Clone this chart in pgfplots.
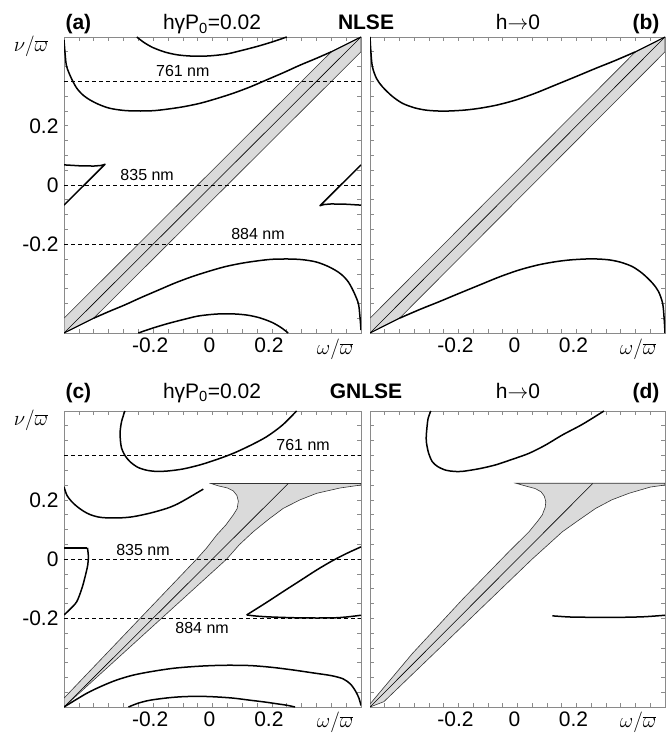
\documentclass[border=0pt]{standalone}
\usepackage{fontspec}
\setmainfont{Liberation Sans}
\usepackage{pgfplots}
\pgfplotsset{compat=1.18}
\definecolor{bandgray}{HTML}{DADADA}
\definecolor{framegray}{HTML}{8A8A8A}
\pgfplotsset{
  panel/.style={
    scale only axis, width=297pt, height=296pt,
    xmin=-0.5, xmax=0.5, ymin=-0.5, ymax=0.5,
    xtick={-0.2,0,0.2}, xticklabels={-0.2,0,0.2},
    ytick={-0.2,0,0.2}, yticklabels={-0.2,0,0.2},
    minor xtick={-0.45,-0.4,-0.35,-0.3,-0.25,-0.15,-0.1,-0.05,0.05,0.1,0.15,0.25,0.3,0.35,0.4,0.45},
    minor ytick={-0.45,-0.4,-0.35,-0.3,-0.25,-0.15,-0.1,-0.05,0.05,0.1,0.15,0.25,0.3,0.35,0.4,0.45},
    tick align=inside,
    axis line style={draw=framegray, line width=0.9pt},
    every tick/.style={draw=framegray, line width=0.6pt},
    major tick length=4pt, minor tick length=4pt,
    ticklabel style={font=\fontsize{21}{25}\selectfont},
    xticklabel style={xshift=-3pt, yshift=-1pt},
    yticklabel style={xshift=-2pt},
  },
  thick curve/.style={black, line width=1.5pt, line join=round},
  thin curve/.style={black, line width=0.6pt},
  band/.style={fill=bandgray, draw=black!80, line width=0.6pt},
  dash line/.style={black, line width=0.7pt, dash pattern=on 4pt off 3pt},
}
\newcommand{\nmlabel}[3]{\node[font=\fontsize{16}{19}\selectfont] at (axis cs:#1,#2) {#3};}
\begin{document}
\begin{tikzpicture}[x=1pt,y=1pt]
% ---------------- (a) ----------------
\begin{axis}[panel, at={(64pt,-333pt)}, anchor=south west]
\addplot[band] coordinates {(-0.5,-0.5) (-0.5,-0.45) (0.4,0.45) (0.5,0.5) (0.5,0.45) (-0.4,-0.45)} -- cycle;
\addplot[thin curve] coordinates {(-0.5,-0.5) (0.5,0.5)};
\addplot[dash line] coordinates {(-0.5,0.35) (0.5,0.35)};
\addplot[dash line] coordinates {(-0.5,0) (0.5,0)};
\addplot[dash line] coordinates {(-0.5,-0.2) (0.5,-0.2)};
\addplot[thick curve, smooth] coordinates {(-0.5,0.49) (-0.496,0.44) (-0.491,0.40) (-0.475,0.36) (-0.457,0.327) (-0.435,0.303) (-0.412,0.287) (-0.38,0.271) (-0.345,0.259) (-0.30,0.252) (-0.255,0.25) (-0.20,0.251) (-0.154,0.256) (-0.10,0.264) (-0.042,0.276) (0.014,0.292) (0.07,0.31) (0.126,0.331) (0.182,0.355) (0.24,0.38) (0.295,0.405) (0.35,0.428) (0.40,0.45)};
\addplot[thick curve, smooth] coordinates {(0.5,-0.49) (0.496,-0.44) (0.491,-0.40) (0.475,-0.36) (0.457,-0.327) (0.435,-0.303) (0.412,-0.287) (0.38,-0.271) (0.345,-0.259) (0.30,-0.252) (0.255,-0.25) (0.20,-0.251) (0.154,-0.256) (0.10,-0.264) (0.042,-0.276) (-0.014,-0.292) (-0.07,-0.31) (-0.126,-0.331) (-0.182,-0.355) (-0.24,-0.38) (-0.295,-0.405) (-0.35,-0.428) (-0.40,-0.45)};
\addplot[black, line width=1.1pt] coordinates {(0.4,0.45) (0.5,0.5)};
\addplot[black, line width=1.1pt] coordinates {(-0.4,-0.45) (-0.5,-0.5)};
\addplot[thick curve, smooth] coordinates {(-0.255,0.5) (-0.23,0.481) (-0.20,0.464) (-0.16,0.449) (-0.12,0.440) (-0.08,0.436) (-0.04,0.435) (0.0,0.437) (0.05,0.443) (0.10,0.455) (0.15,0.468) (0.20,0.483) (0.25,0.5)};
\addplot[thick curve, smooth] coordinates {(0.255,-0.5) (0.23,-0.481) (0.20,-0.464) (0.16,-0.449) (0.12,-0.440) (0.08,-0.436) (0.04,-0.435) (0.0,-0.437) (-0.05,-0.443) (-0.10,-0.455) (-0.15,-0.468) (-0.20,-0.483) (-0.25,-0.5)};
\addplot[thick curve] coordinates {(-0.5,0.068) (-0.45,0.065) (-0.40,0.064) (-0.375,0.066) (-0.362,0.07) (-0.5,-0.068)};
\addplot[thick curve] coordinates {(0.5,-0.068) (0.45,-0.065) (0.40,-0.064) (0.375,-0.066) (0.362,-0.07) (0.5,0.068)};
\nmlabel{-0.1}{0.385}{761 nm}
\nmlabel{-0.22}{0.035}{835 nm}
\nmlabel{0.153}{-0.167}{884 nm}
\end{axis}
% ---------------- (b) ----------------
\begin{axis}[panel, width=295pt, at={(370pt,-333pt)}, anchor=south west, yticklabels={}]
\addplot[band] coordinates {(-0.5,-0.5) (-0.5,-0.45) (0.4,0.45) (0.5,0.5) (0.5,0.45) (-0.4,-0.45)} -- cycle;
\addplot[thin curve] coordinates {(-0.5,-0.5) (0.5,0.5)};
\addplot[thick curve, smooth] coordinates {(-0.5,0.5) (-0.497,0.45) (-0.492,0.40) (-0.478,0.36) (-0.458,0.332) (-0.425,0.300) (-0.39,0.276) (-0.35,0.261) (-0.311,0.253) (-0.27,0.25) (-0.232,0.25) (-0.18,0.253) (-0.13,0.259) (-0.07,0.27) (-0.006,0.287) (0.06,0.31) (0.129,0.338) (0.20,0.367) (0.265,0.394) (0.33,0.42) (0.40,0.45)};
\addplot[thick curve, smooth] coordinates {(0.5,-0.5) (0.497,-0.45) (0.492,-0.40) (0.478,-0.36) (0.458,-0.332) (0.425,-0.300) (0.39,-0.276) (0.35,-0.261) (0.311,-0.253) (0.27,-0.25) (0.232,-0.25) (0.18,-0.253) (0.13,-0.259) (0.07,-0.27) (0.006,-0.287) (-0.06,-0.31) (-0.129,-0.338) (-0.20,-0.367) (-0.265,-0.394) (-0.33,-0.42) (-0.40,-0.45)};
\addplot[black, line width=1.1pt] coordinates {(0.4,0.45) (0.5,0.5)};
\addplot[black, line width=1.1pt] coordinates {(-0.4,-0.45) (-0.5,-0.5)};
\end{axis}
% ---------------- (c) ----------------
\begin{axis}[panel, at={(64pt,-707pt)}, anchor=south west]
\addplot[band] coordinates {(-0.5,-0.5) (-0.5,-0.47) (-0.053,0.0) (-0.02,0.037) (0.014,0.081) (0.045,0.115) (0.07,0.149) (0.083,0.17) (0.087,0.195) (0.082,0.215) (0.07,0.23) (0.05,0.24) (0.02,0.247) (-0.005,0.255) (0.5,0.255) (0.5,0.25) (0.43,0.24) (0.351,0.222) (0.295,0.2) (0.238,0.171) (0.19,0.135) (0.137,0.092) (0.09,0.048) (0.048,0.0)} -- cycle;
\addplot[thin curve] coordinates {(-0.5,-0.5) (0.255,0.255)};
\addplot[dash line] coordinates {(-0.5,0.35) (0.5,0.35)};
\addplot[dash line] coordinates {(-0.5,0) (0.5,0)};
\addplot[dash line] coordinates {(-0.5,-0.2) (0.5,-0.2)};
\addplot[thick curve, smooth] coordinates {(-0.295,0.5) (-0.306,0.465) (-0.311,0.43) (-0.310,0.40) (-0.306,0.374) (-0.295,0.35) (-0.278,0.329) (-0.252,0.31) (-0.222,0.30) (-0.19,0.296) (-0.154,0.297) (-0.10,0.304) (-0.042,0.318) (0.014,0.336) (0.07,0.357) (0.126,0.383) (0.182,0.413) (0.235,0.452) (0.283,0.5)};
\addplot[thick curve, smooth] coordinates {(-0.5,0.244) (-0.49,0.215) (-0.475,0.195) (-0.457,0.178) (-0.435,0.162) (-0.412,0.150) (-0.385,0.142) (-0.356,0.139) (-0.31,0.139) (-0.267,0.143) (-0.21,0.155) (-0.154,0.171) (-0.12,0.185) (-0.087,0.203) (-0.06,0.219) (-0.031,0.236)};
\addplot[thick curve, smooth] coordinates {(-0.5,-0.5) (-0.424,-0.454) (-0.37,-0.428) (-0.323,-0.409) (-0.27,-0.393) (-0.21,-0.381) (-0.13,-0.369) (-0.042,-0.362) (0.04,-0.359) (0.126,-0.36) (0.2,-0.366) (0.272,-0.375) (0.34,-0.385) (0.40,-0.394) (0.44,-0.405) (0.465,-0.423) (0.482,-0.447) (0.493,-0.47) (0.5,-0.495)};
\addplot[thick curve, smooth] coordinates {(-0.283,-0.5) (-0.25,-0.487) (-0.21,-0.477) (-0.15,-0.469) (-0.098,-0.465) (-0.04,-0.464) (0.014,-0.466) (0.07,-0.47) (0.126,-0.477) (0.175,-0.483) (0.216,-0.489) (0.25,-0.494) (0.278,-0.5)};
\addplot[thick curve] coordinates {(-0.5,0.038) (-0.421,0.038)};
\addplot[thick curve, smooth] coordinates {(-0.421,0.038) (-0.418,0.01) (-0.42,-0.02) (-0.429,-0.06) (-0.44,-0.10) (-0.457,-0.144) (-0.48,-0.17) (-0.5,-0.189)};
\addplot[thick curve, smooth] coordinates {(0.5,0.041) (0.45,0.018) (0.40,-0.008) (0.351,-0.037) (0.30,-0.07) (0.238,-0.11) (0.18,-0.148) (0.115,-0.189)};
\addplot[thick curve, smooth] coordinates {(0.115,-0.189) (0.15,-0.193) (0.2,-0.196) (0.3,-0.199) (0.4,-0.199) (0.45,-0.196) (0.5,-0.19)};
\nmlabel{0.305}{0.385}{761 nm}
\nmlabel{-0.234}{0.03}{835 nm}
\nmlabel{-0.035}{-0.233}{884 nm}
\end{axis}
% ---------------- (d) ----------------
\begin{axis}[panel, width=295pt, at={(370pt,-707pt)}, anchor=south west, yticklabels={}]
\addplot[band] coordinates {(-0.5,-0.5) (-0.5,-0.49) (-0.357,-0.32) (-0.187,-0.137) (-0.029,0.025) (0.039,0.092) (0.07,0.13) (0.084,0.149) (0.094,0.175) (0.096,0.194) (0.091,0.212) (0.08,0.227) (0.06,0.238) (0.03,0.246) (-0.006,0.256) (0.5,0.256) (0.5,0.25) (0.45,0.243) (0.378,0.222) (0.32,0.2) (0.265,0.171) (0.21,0.133) (0.152,0.092) (0.10,0.045) (0.05,0.0) (-0.453,-0.482)} -- cycle;
\addplot[thin curve] coordinates {(-0.5,-0.5) (0.255,0.255)};
\addplot[thick curve, smooth] coordinates {(-0.294,0.5) (-0.303,0.475) (-0.306,0.453) (-0.309,0.42) (-0.309,0.396) (-0.302,0.36) (-0.289,0.329) (-0.27,0.312) (-0.243,0.30) (-0.215,0.296) (-0.187,0.296) (-0.13,0.305) (-0.074,0.318) (-0.02,0.336) (0.039,0.357) (0.095,0.385) (0.152,0.419) (0.22,0.455) (0.293,0.5)};
\addplot[thick curve, smooth] coordinates {(0.118,-0.192) (0.18,-0.196) (0.265,-0.197) (0.35,-0.197) (0.43,-0.195) (0.5,-0.19)};
\end{axis}
% ---------------- texts ----------------
\tikzset{ttl/.style={font=\fontsize{21}{25}\selectfont}}
\node[ttl, anchor=base west] at (62,-30) {\bfseries (a)};
\node[ttl, anchor=base] at (212,-30) {hγP\textsubscript{0}=0.02};
\node[ttl, anchor=base] at (366,-30) {\bfseries NLSE};
\node[ttl, anchor=base] at (518,-30) {h$\rightarrow$0};
\node[ttl, anchor=base east] at (663,-30) {\bfseries (b)};
\node[ttl, anchor=base west] at (62,-398) {\bfseries (c)};
\node[ttl, anchor=base] at (212,-398) {hγP\textsubscript{0}=0.02};
\node[ttl, anchor=base] at (366,-398) {\bfseries GNLSE};
\node[ttl, anchor=base] at (518,-398) {h$\rightarrow$0};
\node[ttl, anchor=base east] at (663,-398) {\bfseries (d)};
\node[font=\fontsize{21}{25}\selectfont] at (31,-46) {$\nu/\overline{\omega}$};
\node[font=\fontsize{21}{25}\selectfont] at (31,-420) {$\nu/\overline{\omega}$};
\node[font=\fontsize{21}{25}\selectfont] at (335,-349) {$\omega/\overline{\omega}$};
\node[font=\fontsize{21}{25}\selectfont] at (638,-349) {$\omega/\overline{\omega}$};
\node[font=\fontsize{21}{25}\selectfont] at (335,-722) {$\omega/\overline{\omega}$};
\node[font=\fontsize{21}{25}\selectfont] at (638,-722) {$\omega/\overline{\omega}$};
\pgfresetboundingbox
\useasboundingbox (0,0) rectangle (665,-735);
\end{tikzpicture}
\end{document}
